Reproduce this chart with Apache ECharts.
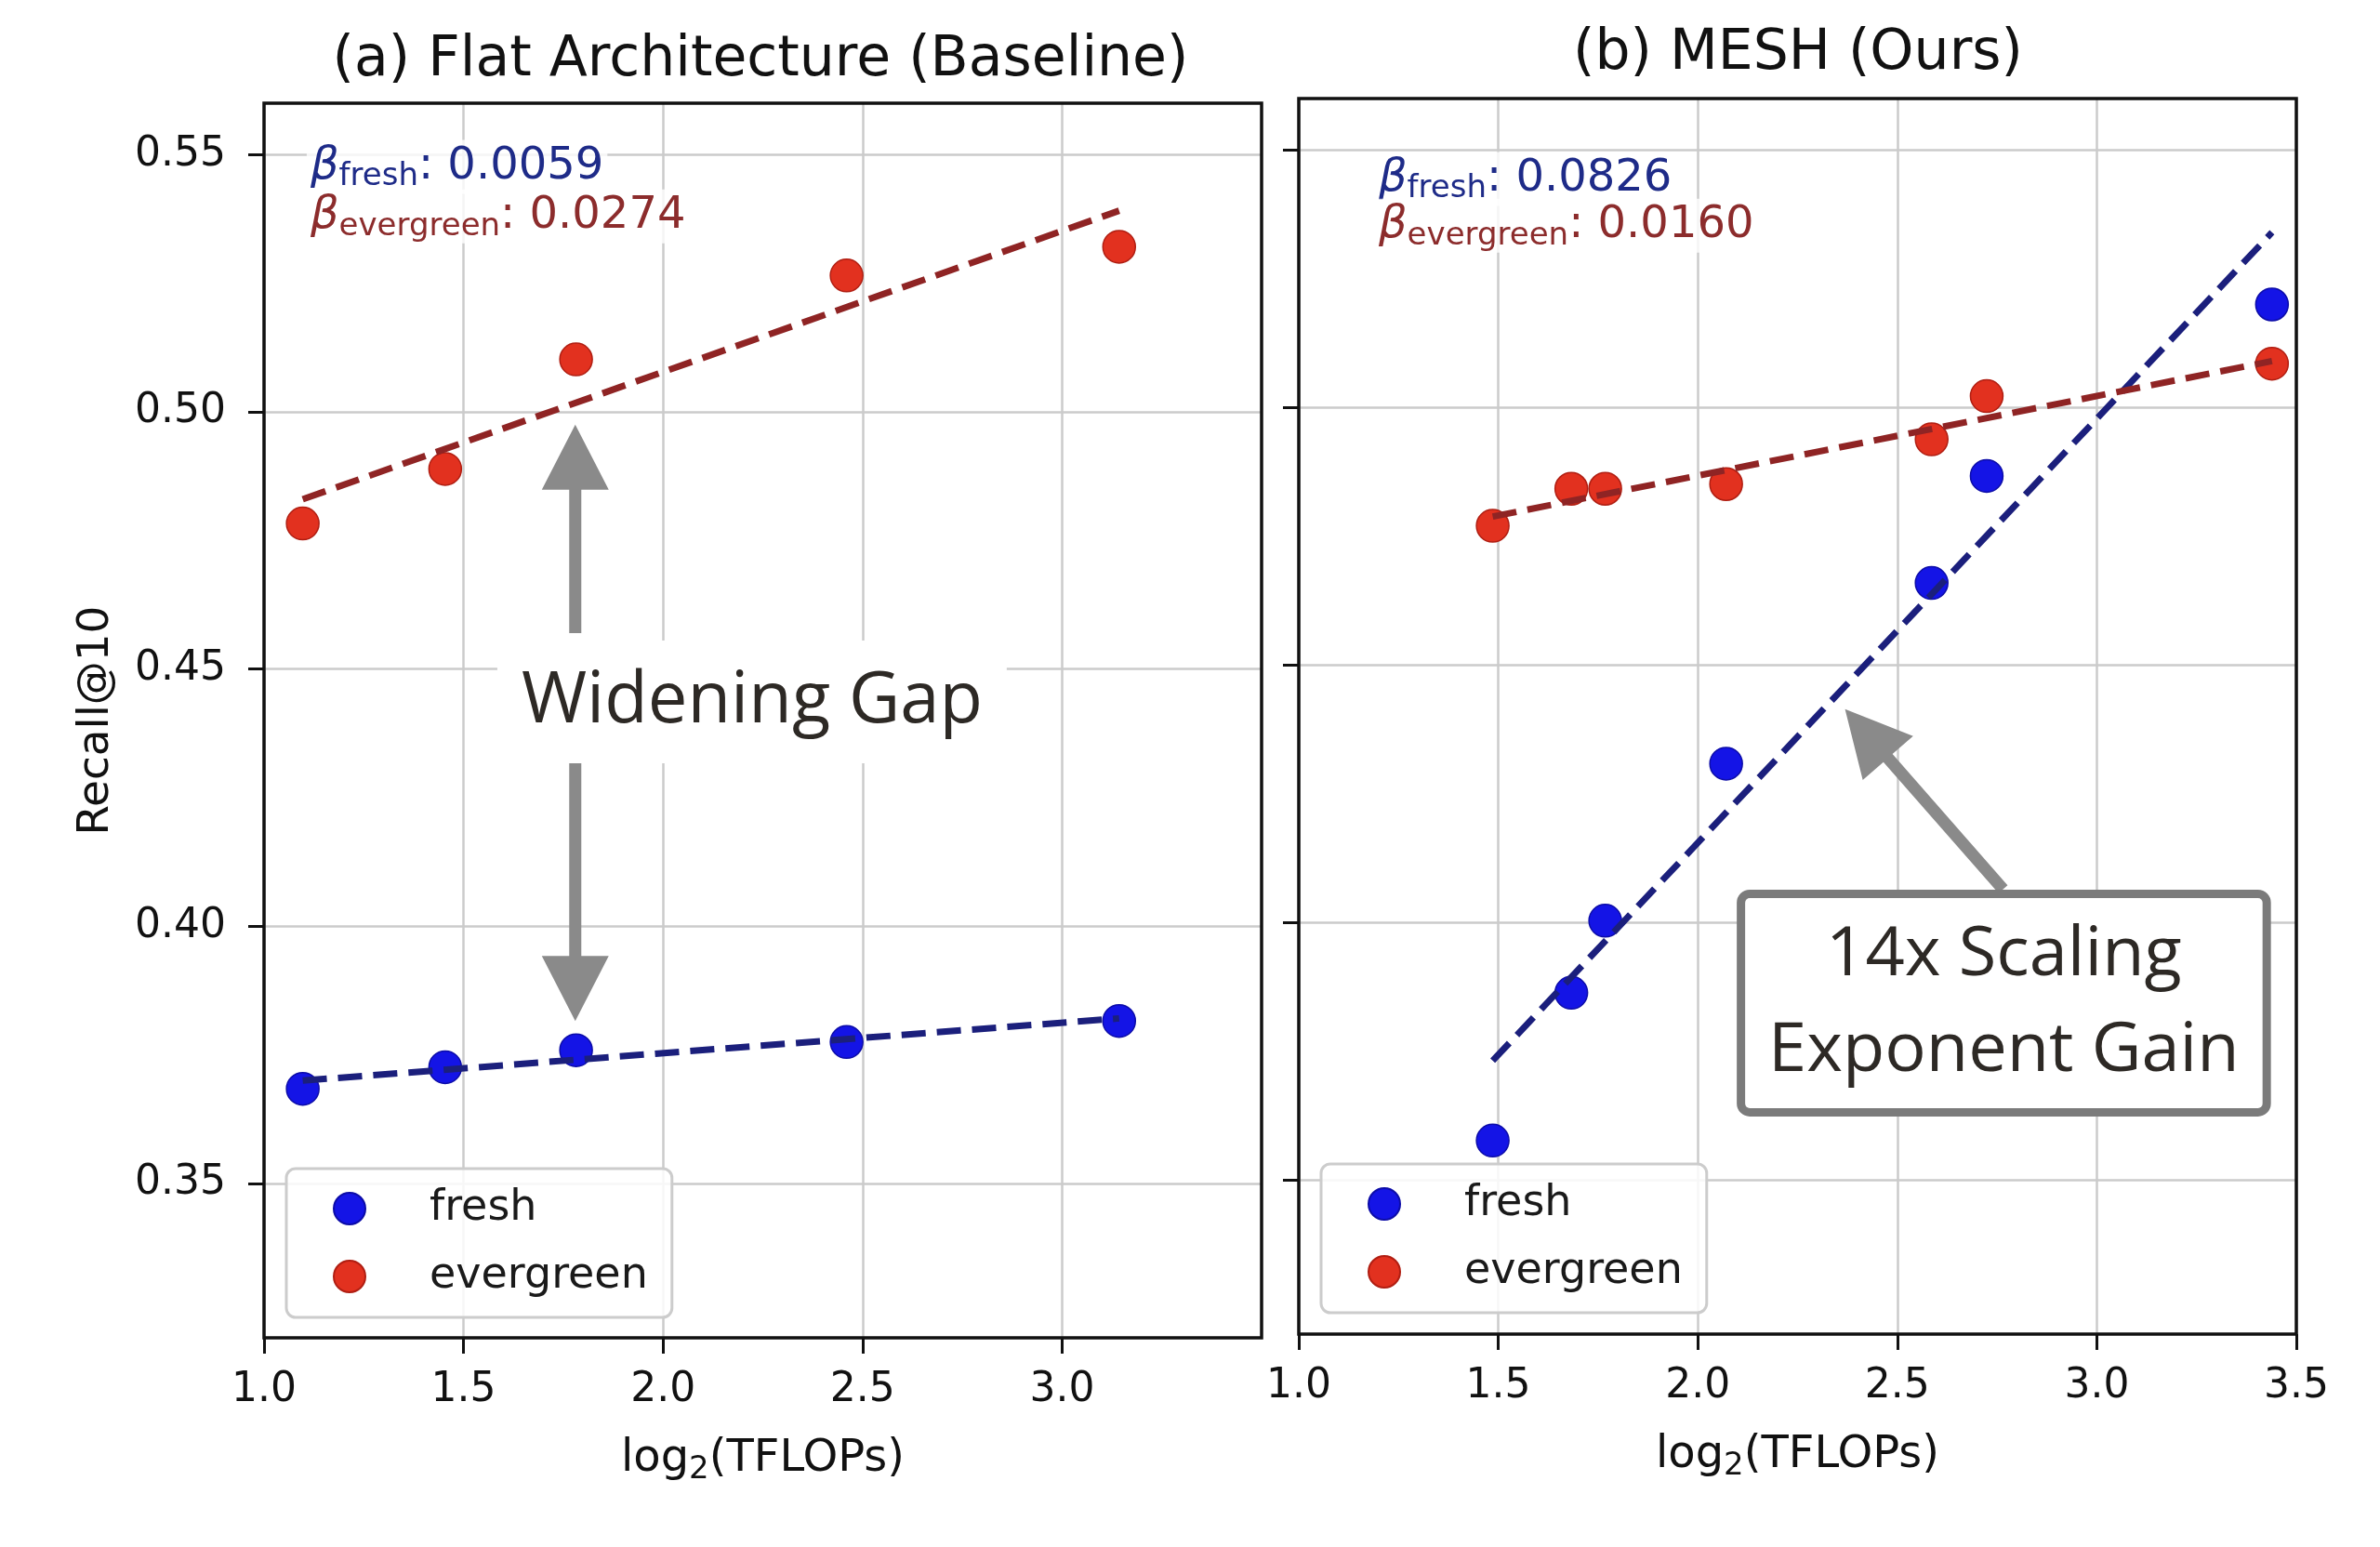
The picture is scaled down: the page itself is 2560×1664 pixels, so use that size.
<!DOCTYPE html>
<html>
<head>
<meta charset="utf-8">
<script src="https://cdn.jsdelivr.net/npm/echarts@6/dist/echarts.min.js"></script>
<style>
html,body{margin:0;padding:0;background:#ffffff;}
#chart{width:2560px;height:1664px;}
</style>
</head>
<body>
<div id="chart"></div>
<script>
// ---------------- data ----------------
const panelTitles = ['(a) Flat Architecture (Baseline)', '(b) MESH (Ours)'];
const seriesNames = ['fresh', 'evergreen'];

// (a) Flat architecture (baseline)
const baseX         = [1.097, 1.454, 1.782, 2.460, 3.143];
const baseFresh     = [0.3684, 0.3726, 0.3759, 0.3775, 0.3816];
const baseEvergreen = [0.4783, 0.4889, 0.5102, 0.5265, 0.5321];
const baseFitX         = [1.097, 3.143];
const baseFitFresh     = [0.3700, 0.3821];
const baseFitEvergreen = [0.4830, 0.5391];
const baseBeta = ['0.0059', '0.0274'];

// (b) MESH (ours)
const meshX         = [1.486, 1.683, 1.768, 2.071, 2.586, 2.724, 3.439];
const meshFresh     = [0.3576, 0.3863, 0.4003, 0.4308, 0.4659, 0.4867, 0.5200];
const meshEvergreen = [0.4770, 0.4842, 0.4842, 0.4851, 0.4938, 0.5022, 0.5085];
const meshFitX         = [1.486, 3.439];
const meshFitFresh     = [0.3731, 0.5340];
const meshFitEvergreen = [0.4788, 0.5090];
const meshBeta = ['0.0826', '0.0160'];

// axes / ticks
const xRange = [1.0, 3.5];
const yRange = [0.32, 0.56];
const xTicksLeft  = [1.0, 1.5, 2.0, 2.5, 3.0];
const xTicksRight = [1.0, 1.5, 2.0, 2.5, 3.0, 3.5];
const yTicks      = [0.35, 0.40, 0.45, 0.50, 0.55];

// annotations (data coordinates)
const gapLabel = 'Widening Gap';
const gapArrowX = 1.78;
const gapUpArrow = [0.457, 0.4975];
const gapDownArrow = [0.433, 0.3816];
const gapLabelAt = [2.223, 0.4436];
const gainLabel = '14x Scaling\nExponent Gain';
const gainArrowFrom = [2.765, 0.4064];
const gainArrowTo = [2.369, 0.4414];
const gainLabelAt = [2.767, 0.3843];
const betaBaseAt = [1.107, 0.5476, 0.5380];
const betaMeshAt = [1.191, 0.5444, 0.5353];

// ---------------- style ----------------
const FONT = '"DejaVu Sans", sans-serif';
const ANN_FONT = '"Open Sans", sans-serif';
const C_FRESH = '#1414e6', C_FRESH_EDGE = '#0c0ca8';
const C_EVER = '#e2311f', C_EVER_EDGE = '#b01e12';
const C_FRESH_LINE = '#1b1f7c', C_EVER_LINE = '#8f2424';
const C_FRESH_TXT = '#1e2b88', C_EVER_TXT = '#8c2c2c';
const GRID_COLOR = '#cbcbcb';
const ARROW = '#8a8a8a';

function pairs(xs, ys) { return xs.map((x, i) => [x, ys[i]]); }

function xAxisCfg(g, ticks) {
  return {
    type: 'value', gridIndex: g, min: xRange[0], max: xRange[1],
    name: 'log{sub|2}(TFLOPs)', nameLocation: 'middle', nameGap: 103,
    nameTextStyle: { fontFamily: FONT, fontSize: 48, color: '#111',
      rich: { sub: { fontFamily: FONT, fontSize: 34, color: '#111', padding: [22, 0, 0, 0] } } },
    axisLine: { show: false },
    axisTick: { show: true, inside: false, length: 17, customValues: ticks,
      lineStyle: { color: '#111', width: 3 } },
    axisLabel: { show: true, margin: 35, customValues: ticks, fontFamily: FONT, fontSize: 44, color: '#111',
      formatter: v => Number(v).toFixed(1) },
    splitLine: { show: true, lineStyle: { color: GRID_COLOR, width: 2.5 } }
  };
}
function yAxisCfg(g, showLabels) {
  return {
    type: 'value', gridIndex: g, min: yRange[0], max: yRange[1],
    name: showLabels ? 'Recall@10' : '', nameLocation: 'middle', nameGap: 157,
    nameTextStyle: { fontFamily: FONT, fontSize: 47, color: '#111' },
    axisLine: { show: false },
    axisTick: { show: true, inside: false, length: 17, customValues: yTicks,
      lineStyle: { color: '#111', width: 3 } },
    axisLabel: { show: showLabels, margin: 41, customValues: yTicks, fontFamily: FONT, fontSize: 44, color: '#111',
      formatter: v => Number(v).toFixed(2) },
    splitLine: { show: true, lineStyle: { color: GRID_COLOR, width: 2.5 } }
  };
}
function scatter(name, g, xs, ys, color, edge) {
  return { type: 'scatter', name: name, xAxisIndex: g, yAxisIndex: g, data: pairs(xs, ys),
    symbol: 'circle', symbolSize: 35, z: 3,
    itemStyle: { color: color, borderColor: edge, borderWidth: 1.5, opacity: 1 } };
}
function fit(name, g, xs, ys, color) {
  return { type: 'line', name: name, xAxisIndex: g, yAxisIndex: g, data: pairs(xs, ys),
    showSymbol: false, symbol: 'none', z: 4, silent: true,
    lineStyle: { color: color, width: 7, type: [26, 12], cap: 'butt' } };
}
function legendCfg(left, top) {
  return {
    data: seriesNames, left: left, top: top, orient: 'vertical',
    icon: 'circle', itemWidth: 34, itemHeight: 34, itemGap: 27,
    padding: [20, 26, 21, 50], selectedMode: false,
    backgroundColor: 'rgba(255,255,255,0.85)', borderColor: '#cccccc', borderWidth: 3, borderRadius: 10,
    textStyle: { fontFamily: FONT, fontSize: 46, color: '#1a1a1a', padding: [0, 0, 0, 64] }
  };
}
function titleCfg(text, x, top) {
  return { text: text, left: x, top: top, textAlign: 'center', padding: 0,
    textStyle: { fontFamily: FONT, fontSize: 60, fontWeight: 'normal', color: '#111' } };
}

const chart = echarts.init(document.getElementById('chart'), null, { renderer: 'canvas' });

chart.setOption({
  backgroundColor: '#ffffff',
  animation: false,
  title: [titleCfg(panelTitles[0], 818, 35), titleCfg(panelTitles[1], 1934, 28)],
  grid: [
    { left: 284, top: 111, width: 1073, height: 1328, show: true, z: 3,
      borderColor: '#111', borderWidth: 3.5, backgroundColor: 'transparent' },
    { left: 1397, top: 106, width: 1073, height: 1329, show: true, z: 3,
      borderColor: '#111', borderWidth: 3.5, backgroundColor: 'transparent' }
  ],
  xAxis: [xAxisCfg(0, xTicksLeft), xAxisCfg(1, xTicksRight)],
  yAxis: [yAxisCfg(0, true), yAxisCfg(1, false)],
  legend: [legendCfg(308, 1257), legendCfg(1421, 1252)],
  series: [
    scatter(seriesNames[0], 0, baseX, baseFresh, C_FRESH, C_FRESH_EDGE),
    scatter(seriesNames[1], 0, baseX, baseEvergreen, C_EVER, C_EVER_EDGE),
    fit('fresh fit', 0, baseFitX, baseFitFresh, C_FRESH_LINE),
    fit('evergreen fit', 0, baseFitX, baseFitEvergreen, C_EVER_LINE),
    scatter(seriesNames[0], 1, meshX, meshFresh, C_FRESH, C_FRESH_EDGE),
    scatter(seriesNames[1], 1, meshX, meshEvergreen, C_EVER, C_EVER_EDGE),
    fit('fresh fit', 1, meshFitX, meshFitFresh, C_FRESH_LINE),
    fit('evergreen fit', 1, meshFitX, meshFitEvergreen, C_EVER_LINE)
  ]
});

// ---------------- annotations ----------------
function px(g, p) { return chart.convertToPixel({ gridIndex: g }, p); }
function arrowEl(g, from, to) {
  const a = px(g, from), b = px(g, to);
  const dx = b[0] - a[0], dy = b[1] - a[1], L = Math.hypot(dx, dy);
  const ux = dx / L, uy = dy / L, nx = -uy, ny = ux;
  const HL = 70, HW = 36, SW = 6.5;
  const bx = b[0] - ux * HL, by = b[1] - uy * HL;
  return { type: 'polygon', z: 60, silent: true,
    shape: { points: [
      [a[0] + nx * SW, a[1] + ny * SW], [bx + nx * SW, by + ny * SW], [bx + nx * HW, by + ny * HW],
      [b[0], b[1]],
      [bx - nx * HW, by - ny * HW], [bx - nx * SW, by - ny * SW], [a[0] - nx * SW, a[1] - ny * SW]
    ] },
    style: { fill: ARROW } };
}
function betaEl(g, at, yv, sub, val, color) {
  const p = px(g, [at[0], yv]);
  return { type: 'text', z: 55, silent: true, x: p[0], y: p[1],
    style: {
      text: '{b|\u03b2}{s|' + sub + '}{v|: ' + val + '}',
      align: 'left', verticalAlign: 'middle', textAlign: 'left', textVerticalAlign: 'middle',
      backgroundColor: 'rgba(255,255,255,0.8)', padding: [0, 4, 0, 4],
      fill: color,
      rich: {
        b: { fontFamily: FONT, fontStyle: 'italic', fontSize: 48, fill: color, lineHeight: 58 },
        s: { fontFamily: FONT, fontSize: 34, fill: color, lineHeight: 36, padding: [22, 0, 0, 0] },
        v: { fontFamily: FONT, fontSize: 48, fill: color, lineHeight: 58 }
      }
    } };
}

const gapPos = px(0, gapLabelAt);
const gainPos = px(1, gainLabelAt);

chart.setOption({
  graphic: { elements: [
    arrowEl(0, [gapArrowX, gapUpArrow[0]], [gapArrowX, gapUpArrow[1]]),
    arrowEl(0, [gapArrowX, gapDownArrow[0]], [gapArrowX, gapDownArrow[1]]),
    { type: 'text', z: 61, silent: true, x: gapPos[0], y: gapPos[1],
      style: { text: gapLabel, fontFamily: ANN_FONT, fontSize: 76, fill: '#2d2925',
        align: 'center', verticalAlign: 'middle', textAlign: 'center', textVerticalAlign: 'middle',
        backgroundColor: '#ffffff', padding: [28, 26, 28, 26] } },
    arrowEl(1, gainArrowFrom, gainArrowTo),
    { type: 'text', z: 61, silent: true, x: gainPos[0], y: gainPos[1],
      style: { text: gainLabel, fontFamily: ANN_FONT, fontSize: 74, lineHeight: 103, fill: '#2d2925',
        align: 'center', verticalAlign: 'middle', textAlign: 'center', textVerticalAlign: 'middle',
        backgroundColor: '#ffffff', borderColor: '#7b7b7b', borderWidth: 9, borderRadius: 5,
        padding: [10, 25, 10, 25] } },
    betaEl(0, betaBaseAt, betaBaseAt[1], 'fresh', baseBeta[0], C_FRESH_TXT),
    betaEl(0, betaBaseAt, betaBaseAt[2], 'evergreen', baseBeta[1], C_EVER_TXT),
    betaEl(1, betaMeshAt, betaMeshAt[1], 'fresh', meshBeta[0], C_FRESH_TXT),
    betaEl(1, betaMeshAt, betaMeshAt[2], 'evergreen', meshBeta[1], C_EVER_TXT)
  ] }
});
</script>
</body>
</html>
